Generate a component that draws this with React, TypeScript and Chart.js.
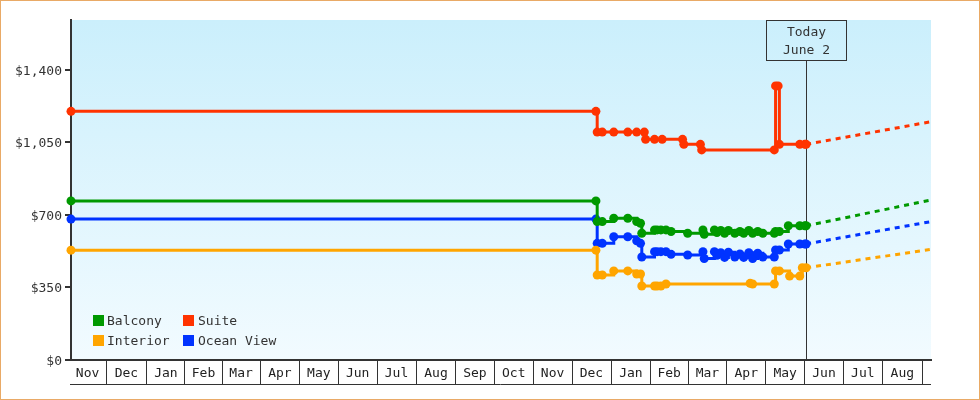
import React, { useEffect, useRef } from 'react';
import { Chart, registerables } from 'chart.js';

Chart.register(...registerables);

const FONT = '"DejaVu Sans Mono", monospace';

// ---------- data ----------
const xStart = '2022-11-03';
const xEnd = '2024-09-08';
const todayDate = '2024-06-02';
const todayLabel = ['Today', 'June 2'];

const monthStarts = [
  '2022-11-01', '2022-12-01', '2023-01-01', '2023-02-01', '2023-03-01', '2023-04-01',
  '2023-05-01', '2023-06-01', '2023-07-01', '2023-08-01', '2023-09-01', '2023-10-01',
  '2023-11-01', '2023-12-01', '2024-01-01', '2024-02-01', '2024-03-01', '2024-04-01',
  '2024-05-01', '2024-06-01', '2024-07-01', '2024-08-01', '2024-09-01',
];
const monthLabels = [
  'Nov', 'Dec', 'Jan', 'Feb', 'Mar', 'Apr', 'May', 'Jun', 'Jul', 'Aug', 'Sep', 'Oct',
  'Nov', 'Dec', 'Jan', 'Feb', 'Mar', 'Apr', 'May', 'Jun', 'Jul', 'Aug',
];

const yTicks = [0, 350, 700, 1050, 1400];
const yMax = 1641;

const seriesNames = ['Balcony', 'Suite', 'Interior', 'Ocean View'];
const seriesColors = ['#009900', '#ff3300', '#ffa500', '#0033ff'];

const balconyDates = [
  '2022-11-03', '2023-12-20', '2023-12-21', '2023-12-25', '2024-01-03', '2024-01-14',
  '2024-01-21', '2024-01-24', '2024-01-25', '2024-02-04', '2024-02-06', '2024-02-09',
  '2024-02-13', '2024-02-17', '2024-03-01', '2024-03-13', '2024-03-14', '2024-03-22',
  '2024-03-24', '2024-03-27', '2024-03-30', '2024-04-02', '2024-04-07', '2024-04-11',
  '2024-04-14', '2024-04-18', '2024-04-21', '2024-04-25', '2024-04-29', '2024-05-08',
  '2024-05-09', '2024-05-12', '2024-05-19', '2024-05-28', '2024-06-01', '2024-06-02',
];
const balconyValues = [
  768, 768, 668, 668, 684, 684, 668, 660, 612, 628, 628, 628, 628, 620, 612, 628, 607, 628,
  615, 625, 612, 625, 612, 620, 612, 625, 612, 620, 612, 612, 620, 620, 648, 648, 648, 648,
];

const oceanDates = balconyDates;
const oceanValues = [
  680, 680, 563, 563, 595, 595, 575, 563, 497, 523, 523, 523, 523, 510, 507, 523, 490, 523,
  505, 518, 495, 520, 497, 512, 495, 518, 490, 515, 497, 497, 531, 531, 560, 560, 560, 560,
];

const suiteDates = [
  '2022-11-03', '2023-12-20', '2023-12-21', '2023-12-25', '2024-01-03', '2024-01-14',
  '2024-01-21', '2024-01-27', '2024-01-28', '2024-02-04', '2024-02-10', '2024-02-26',
  '2024-02-27', '2024-03-11', '2024-03-12', '2024-05-08', '2024-05-09', '2024-05-11',
  '2024-05-12', '2024-05-28', '2024-06-01', '2024-06-02',
];
const suiteValues = [
  1200, 1200, 1100, 1100, 1100, 1100, 1100, 1100, 1065, 1065, 1065, 1065, 1041, 1041,
  1014, 1014, 1323, 1323, 1041, 1041, 1041, 1041,
];

const interiorDates = [
  '2022-11-03', '2023-12-20', '2023-12-21', '2023-12-25', '2024-01-03', '2024-01-14',
  '2024-01-21', '2024-01-24', '2024-01-25', '2024-02-04', '2024-02-06', '2024-02-09',
  '2024-02-13', '2024-04-19', '2024-04-21', '2024-05-08', '2024-05-09', '2024-05-12',
  '2024-05-20', '2024-05-28', '2024-05-30', '2024-06-02',
];
const interiorValues = [
  530, 530, 410, 410, 430, 430, 415, 415, 357, 357, 357, 357, 367, 370, 367, 367, 430, 430,
  405, 405, 445, 445,
];

// forecast end values (Sep 8), order: Balcony, Suite, Interior, Ocean View
const forecastEnd = [772, 1150, 534, 668];

// ---------- helpers ----------
const day = (s: string) => {
  const [y, m, d] = s.split('-').map(Number);
  return Date.UTC(y, m - 1, d) / 864e5;
};
const fmtMoney = (v: number) => '$' + String(v).replace(/\B(?=(\d{3})+(?!\d))/g, ',');

const monthMids = monthLabels.map((_, i) => (day(monthStarts[i]) + day(monthStarts[i + 1])) / 2);

const seriesData = [
  { dates: balconyDates, values: balconyValues },
  { dates: suiteDates, values: suiteValues },
  { dates: interiorDates, values: interiorValues },
  { dates: oceanDates, values: oceanValues },
];

const decor = {
  id: 'decor',
  beforeDraw(chart: any) {
    const { ctx, chartArea: a, width, height } = chart;
    ctx.save();
    ctx.fillStyle = '#ffffff';
    ctx.fillRect(0, 0, width, height);
    const g = ctx.createLinearGradient(0, a.top, 0, a.bottom);
    g.addColorStop(0, '#cbeffc');
    g.addColorStop(1, '#f2fbff');
    ctx.fillStyle = g;
    ctx.fillRect(a.left, a.top, a.right - a.left, a.bottom - a.top);
    ctx.restore();
  },
  beforeDatasetsDraw(chart: any) {
    const { ctx, chartArea: a } = chart;
    const x = Math.round(chart.scales.x.getPixelForValue(day(todayDate))) + 0.5;
    const bw = 80;
    const bh = 40;
    ctx.save();
    ctx.strokeStyle = '#333';
    ctx.lineWidth = 1;
    ctx.beginPath();
    ctx.moveTo(x, a.top + bh);
    ctx.lineTo(x, a.bottom);
    ctx.stroke();
    ctx.strokeRect(x - bw / 2, a.top + 0.5, bw, bh);
    ctx.fillStyle = '#333';
    ctx.font = '13px ' + FONT;
    ctx.textAlign = 'center';
    ctx.textBaseline = 'middle';
    ctx.fillText(todayLabel[0], x, a.top + 13);
    ctx.fillText(todayLabel[1], x, a.top + 30.5);
    ctx.restore();
  },
  afterDraw(chart: any) {
    const { ctx, chartArea: a, width, height } = chart;
    ctx.save();
    ctx.strokeStyle = '#333';
    ctx.lineWidth = 1;
    ctx.beginPath();
    ctx.moveTo(a.left - 1, a.bottom + 24.5);
    ctx.lineTo(a.right, a.bottom + 24.5);
    ctx.stroke();
    ctx.strokeStyle = '#e9aa66';
    ctx.strokeRect(0.5, 0.5, width - 1, height - 1);
    ctx.restore();
  },
};

export default function App() {
  const ref = useRef<HTMLCanvasElement | null>(null);

  useEffect(() => {
    if (!ref.current) return;
    const solid = seriesData.map((s, i) => ({
      label: seriesNames[i],
      data: s.dates.map((d, j) => ({ x: day(d), y: s.values[j] })),
      borderColor: seriesColors[i],
      backgroundColor: seriesColors[i],
      pointBackgroundColor: seriesColors[i],
      pointBorderColor: seriesColors[i],
      borderWidth: 3,
      pointRadius: 4.5,
      pointBorderWidth: 0,
      pointStyle: 'circle',
      stepped: 'before',
      fill: false,
      clip: false,
    }));
    const dashed = seriesData.map((s, i) => ({
      label: seriesNames[i] + ' forecast',
      data: [
        { x: day(todayDate), y: s.values[s.values.length - 1] },
        { x: day(xEnd), y: forecastEnd[i] },
      ],
      borderColor: seriesColors[i],
      borderWidth: 3,
      borderDash: [5, 5],
      pointRadius: 0,
      fill: false,
      clip: false,
    }));

    const chart = new Chart(ref.current, {
      type: 'line',
      data: { datasets: [...solid, ...dashed] as any },
      options: {
        responsive: false,
        animation: false,
        events: [],
        layout: { padding: { left: 0, right: 49, top: 20, bottom: 0 } },
        plugins: { legend: { display: false }, tooltip: { enabled: false } },
        scales: {
          x: {
            type: 'linear',
            min: day(xStart),
            max: day(xEnd),
            afterBuildTicks: (s: any) => {
              s.ticks = monthMids.map((v) => ({ value: v }));
            },
            afterFit: (s: any) => {
              s.height = 40;
            },
            ticks: {
              autoSkip: false,
              maxRotation: 0,
              minRotation: 0,
              padding: -19,
              color: '#222',
              font: { family: FONT, size: 13 },
              callback: (_v: any, i: number) => monthLabels[i],
            },
            grid: {
              drawOnChartArea: false,
              offset: true,
              tickLength: 25,
              color: '#333',
              lineWidth: 1,
            },
            border: { color: '#333', width: 2 },
          },
          y: {
            min: 0,
            max: yMax,
            afterBuildTicks: (s: any) => {
              s.ticks = yTicks.map((v) => ({ value: v }));
            },
            afterFit: (s: any) => {
              s.width = 71;
            },
            ticks: {
              padding: 3,
              labelOffset: 1.5,
              color: '#333',
              font: { family: FONT, size: 13 },
              callback: (v: any) => fmtMoney(Number(v)),
            },
            grid: { drawOnChartArea: false, tickLength: 6, color: '#333', lineWidth: 2 },
            border: { color: '#333', width: 2 },
          },
        },
      } as any,
      plugins: [decor],
    });
    return () => chart.destroy();
  }, []);

  const legendPos = [
    { x: 93, y: 315 },
    { x: 183, y: 315 },
    { x: 93, y: 335 },
    { x: 183, y: 335 },
  ];

  return (
    <div style={{ position: 'fixed', left: 0, top: 0, width: 980, height: 400 }}>
      <canvas ref={ref} width={980} height={400} style={{ display: 'block', width: 980, height: 400 }} />
      {seriesNames.map((name, i) => (
        <div
          key={name}
          style={{
            position: 'absolute',
            left: legendPos[i].x,
            top: legendPos[i].y,
            height: 11,
            display: 'flex',
            alignItems: 'center',
            font: '13px ' + FONT,
            color: '#333',
            whiteSpace: 'nowrap',
          }}
        >
          <span style={{ width: 11, height: 11, background: seriesColors[i], marginRight: i % 2 ? 4 : 3 }} />
          <span style={{ lineHeight: '11px' }}>{name}</span>
        </div>
      ))}
    </div>
  );
}
